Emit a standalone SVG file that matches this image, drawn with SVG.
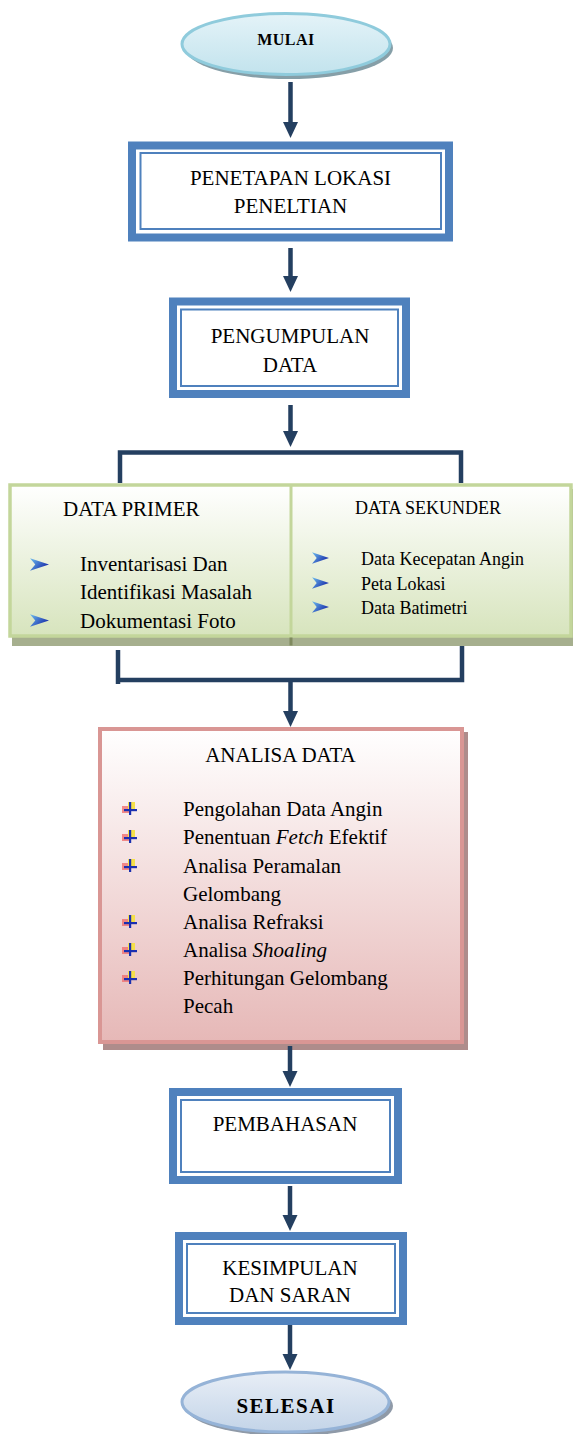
<svg xmlns="http://www.w3.org/2000/svg" width="573" height="1434" viewBox="0 0 573 1434">
<style>
.t{font-family:"Liberation Serif","Times New Roman",serif;font-size:21px;fill:#000}
.s{font-size:18px}
.c{text-anchor:middle}
.b{font-weight:bold}
.i{font-style:italic}
.ob{fill:#fff;stroke:#4F81BD;stroke-width:8}
.ib{fill:none;stroke:#4F81BD;stroke-width:2}
.con{fill:none;stroke:#243F60;stroke-width:4.5}
</style>
<defs>
<linearGradient id="gMul" x1="0" y1="0" x2="0" y2="1"><stop offset="0" stop-color="#E4F3F8"/><stop offset="1" stop-color="#C2E3ED"/></linearGradient>
<linearGradient id="gSel" x1="0" y1="0" x2="0" y2="1"><stop offset="0" stop-color="#E8EEF6"/><stop offset="1" stop-color="#C3D4E8"/></linearGradient>
<linearGradient id="gGreen" x1="0" y1="0" x2="0" y2="1"><stop offset="0" stop-color="#FFFFFF"/><stop offset="1" stop-color="#D7E4BD"/></linearGradient>
<linearGradient id="gPink" x1="0" y1="0" x2="0" y2="1"><stop offset="0" stop-color="#FFFFFF"/><stop offset="1" stop-color="#E6B8B7"/></linearGradient>
<linearGradient id="gChev" x1="0" y1="0" x2="1" y2="0.6"><stop offset="0" stop-color="#6FC0F0"/><stop offset="1" stop-color="#1628A8"/></linearGradient>
<marker id="ah" markerUnits="userSpaceOnUse" markerWidth="16" markerHeight="16" refX="0" refY="7.5" orient="auto" viewBox="0 0 16 15">
<path d="M0,0 L16,7.5 L0,15 Z" fill="#243F60"/>
</marker>
<symbol id="chev" viewBox="0 0 18 12"><path d="M0,0 L18,6 L0,12 L5,6 Z" fill="url(#gChev)"/></symbol>
<g id="pb">
<rect x="0" y="4" width="7" height="7" fill="#F07070" opacity="0.8"/>
<rect x="6" y="0" width="7" height="8" fill="#F5E04A"/>
<rect x="7" y="0" width="2.2" height="13" fill="#1A2FB0"/>
<rect x="2" y="7" width="13" height="2.2" fill="#1A2FB0"/>
</g>
</defs>

<g id="mulai">
<ellipse cx="289" cy="48" rx="104" ry="31" fill="#869FA8"/>
<ellipse cx="286" cy="44" rx="104" ry="30.5" fill="url(#gMul)" stroke="#8FCBDC" stroke-width="3"/>
<text class="t b c" x="286" y="45" style="font-size:16px;letter-spacing:0.5px">MULAI</text>
</g>

<g id="penetapan">
<rect class="ob" x="132" y="145.5" width="317" height="92"/>
<rect class="ib" x="140.5" y="153" width="300.5" height="76"/>
<text class="t c" x="290.5" y="185">PENETAPAN LOKASI</text>
<text class="t c" x="290.5" y="213">PENELTIAN</text>
</g>

<g id="pengumpulan">
<rect class="ob" x="173" y="301.5" width="233" height="92.5"/>
<rect class="ib" x="181" y="309.5" width="217" height="76.5"/>
<text class="t c" x="290" y="343">PENGUMPULAN</text>
<text class="t c" x="290" y="371.5">DATA</text>
</g>

<g id="data">
<rect x="12" y="489" width="561" height="157" fill="#A6AF8E"/>
<rect x="10" y="485" width="561" height="151" fill="url(#gGreen)" stroke="#C3D69B" stroke-width="3.5"/>
<line x1="291" y1="485" x2="291" y2="637" stroke="#C3D69B" stroke-width="3"/>
<rect x="289.5" y="637.5" width="3" height="8" fill="#7F8A5E"/>
<g id="data-primer">
<text class="t" x="63" y="516">DATA PRIMER</text>
<use href="#chev" x="30" y="558" width="19" height="13"/>
<text class="t" x="80" y="571">Inventarisasi Dan</text>
<text class="t" x="80" y="599">Identifikasi Masalah</text>
<use href="#chev" x="30" y="614" width="19" height="13"/>
<text class="t" x="80" y="628">Dokumentasi Foto</text>
</g>
<g id="data-sekunder">
<text class="t s" x="355" y="514">DATA SEKUNDER</text>
<use href="#chev" x="312" y="552" width="17" height="12"/>
<text class="t s" x="361" y="565">Data Kecepatan Angin</text>
<use href="#chev" x="312" y="577" width="17" height="12"/>
<text class="t s" x="361" y="590">Peta Lokasi</text>
<use href="#chev" x="312" y="601" width="17" height="12"/>
<text class="t s" x="361" y="614">Data Batimetri</text>
</g>
</g>

<g id="analisa">
<rect x="103" y="732" width="365" height="318" fill="#AE8C8B"/>
<rect x="100" y="729" width="362" height="313" fill="url(#gPink)" stroke="#D99694" stroke-width="4"/>
<text class="t c" x="280.5" y="762">ANALISA DATA</text>
<use href="#pb" x="122" y="802"/>
<text class="t" x="183" y="816">Pengolahan Data Angin</text>
<use href="#pb" x="122" y="830"/>
<text class="t" x="183" y="844">Penentuan <tspan class="i">Fetch</tspan> Efektif</text>
<use href="#pb" x="122" y="859"/>
<text class="t" x="183" y="873">Analisa Peramalan</text>
<text class="t" x="183" y="901">Gelombang</text>
<use href="#pb" x="122" y="915"/>
<text class="t" x="183" y="929">Analisa Refraksi</text>
<use href="#pb" x="122" y="943"/>
<text class="t" x="183" y="957">Analisa <tspan class="i">Shoaling</tspan></text>
<use href="#pb" x="122" y="971"/>
<text class="t" x="183" y="985">Perhitungan Gelombang</text>
<text class="t" x="183" y="1013">Pecah</text>
</g>

<g id="pembahasan">
<rect class="ob" x="173" y="1092" width="225" height="88"/>
<rect class="ib" x="181" y="1100" width="209" height="72"/>
<text class="t c" x="285" y="1131">PEMBAHASAN</text>
</g>

<g id="kesimpulan">
<rect class="ob" x="179" y="1236" width="224" height="85"/>
<rect class="ib" x="187" y="1244" width="208" height="69"/>
<text class="t c" x="290" y="1275">KESIMPULAN</text>
<text class="t c" x="290" y="1302">DAN SARAN</text>
</g>

<g id="selesai">
<ellipse cx="289" cy="1406" rx="104" ry="30" fill="#8F9AA8"/>
<ellipse cx="285.5" cy="1402" rx="103.5" ry="30" fill="url(#gSel)" stroke="#95B3D7" stroke-width="3"/>
<text class="t b c" x="286" y="1413" style="font-size:21px;letter-spacing:1.5px">SELESAI</text>
</g>

<g id="connectors">
<path class="con" d="M290.5,82 V122" marker-end="url(#ah)"/>
<path class="con" d="M290.5,248 V276" marker-end="url(#ah)"/>
<path class="con" d="M290.5,405 V431" marker-end="url(#ah)"/>
<path class="con" d="M120,483 V452.5 H461 V483"/>
<path class="con" d="M118,650 V684"/>
<path class="con" d="M120,680 H462 V646"/>
<path class="con" d="M290.5,680 V711" marker-end="url(#ah)"/>
<path class="con" d="M290,1046 V1071" marker-end="url(#ah)"/>
<path class="con" d="M290,1186 V1215" marker-end="url(#ah)"/>
<path class="con" d="M290,1325 V1354" marker-end="url(#ah)"/>
</g>
</svg>
